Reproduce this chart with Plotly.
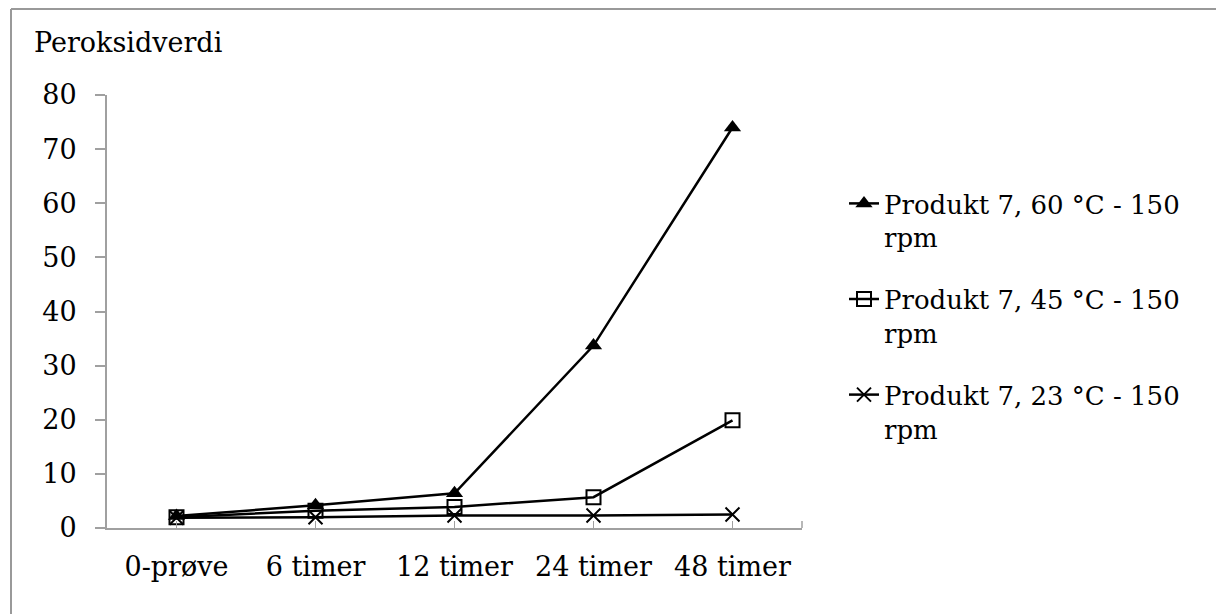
import plotly.graph_objects as go

categories = ["0-prøve", "6 timer", "12 timer", "24 timer", "48 timer"]
s60 = [2.2, 4.2, 6.4, 33.7, 74.0]
s45 = [2.0, 3.2, 3.9, 5.7, 19.9]
s23 = [1.9, 2.0, 2.3, 2.3, 2.5]
names = ["Produkt 7, 60 °C - 150<br>rpm", "Produkt 7, 45 °C - 150<br>rpm", "Produkt 7, 23 °C - 150<br>rpm"]
y_ticks = [0, 10, 20, 30, 40, 50, 60, 70, 80]

FONT = "DejaVu Serif"
W, H = 1216, 614
L, R, T, B = 107, 414, 95, 86
PW, PH = W - L - R, H - T - B

def px(x):
    return (x - L) / PW

def py(y):
    return (H - B - y) / PH

fig = go.Figure()
fig.add_trace(go.Scatter(x=categories, y=s60, name=names[0], mode="lines+markers",
                         line=dict(color="black", width=2.5), legendgroup="a",
                         marker=dict(symbol="triangle-up", size=15, color="black")))
fig.add_trace(go.Scatter(x=categories, y=s45, name=names[1], mode="lines+markers",
                         line=dict(color="black", width=2.5), legendgroup="b",
                         marker=dict(symbol="square-open", size=14, color="black", line=dict(width=2))))
fig.add_trace(go.Scatter(x=categories, y=s23, name=names[2], mode="lines+markers",
                         line=dict(color="black", width=2.5), legendgroup="c",
                         marker=dict(symbol="x-thin-open", size=14, color="black", line=dict(width=2))))

fig.update_layout(
    width=W, height=H,
    margin=dict(l=L, r=R, t=T, b=B),
    paper_bgcolor="white", plot_bgcolor="white",
    font=dict(family=FONT, size=27, color="black"),
    showlegend=True,
    legend=dict(x=px(844), y=py(180), xanchor="left", yanchor="top",
                font=dict(family=FONT, size=26, color="black"),
                traceorder="grouped", tracegroupgap=25, valign="top",
                bgcolor="rgba(0,0,0,0)"),
    xaxis=dict(type="category", range=[-0.5, 4.5], showgrid=False, zeroline=False,
               showline=True, linecolor="#a0a0a0", linewidth=2,
               ticks="inside", ticklen=7, tickcolor="#a0a0a0", tickwidth=1,
               tickfont=dict(family=FONT, size=27, color="black"), ticklabelstandoff=14),
    yaxis=dict(range=[0, 80], tickvals=y_ticks, showgrid=False, zeroline=False,
               showline=True, linecolor="#a0a0a0", linewidth=2,
               ticks="outside", ticklen=10, tickcolor="#a0a0a0", tickwidth=2,
               tickfont=dict(family=FONT, size=27, color="black"), ticklabelstandoff=13),
    annotations=[dict(text="Peroksidverdi", x=px(32), y=py(42), xref="paper", yref="paper",
                      xanchor="left", yanchor="middle", showarrow=False,
                      font=dict(family=FONT, size=27, color="black"))],
    shapes=[
        dict(type="line", xref="paper", yref="paper", x0=px(11), x1=px(1230), y0=py(9), y1=py(9),
             line=dict(color="#999999", width=2)),
        dict(type="line", xref="paper", yref="paper", x0=px(11), x1=px(11), y0=py(9), y1=py(630),
             line=dict(color="#999999", width=2)),
        dict(type="line", xref="paper", yref="paper", x0=1, x1=1, y0=0, y1=py(521),
             line=dict(color="#a0a0a0", width=1.5)),
    ],
)

fig.write_html("out.html")
